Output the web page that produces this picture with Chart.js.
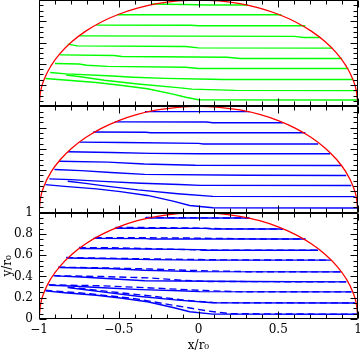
<!DOCTYPE html>
<html lang="en">
<head>
  <meta charset="UTF-8" />
  <title>Streamlines</title>
  <style>
    html, body { margin: 0; padding: 0; background: #fff; }
    #wrap { width: 360px; height: 354px; }
  </style>
</head>
<body>
  <div id="wrap"><canvas id="chart"></canvas></div>

  <script src="https://cdn.jsdelivr.net/npm/chart.js"></script>
  <script>
    // boundary r = r0 (red half circle)
    const circleX = [-1, -0.991, -0.966, -0.924, -0.866, -0.793, -0.707, -0.609, -0.5, -0.383, -0.259, -0.131, 0,
                     0.131, 0.259, 0.383, 0.5, 0.609, 0.707, 0.793, 0.866, 0.924, 0.966, 0.991, 1];
    const circleY = [0, 0.131, 0.259, 0.383, 0.5, 0.609, 0.707, 0.793, 0.866, 0.924, 0.966, 0.991, 1,
                     0.991, 0.966, 0.924, 0.866, 0.793, 0.707, 0.609, 0.5, 0.383, 0.259, 0.131, 0];

    // top panel: green streamlines, [x, y]
    const greenLines = [
      [[-0.30, 0.962], [0.00, 0.955], [0.05, 0.953], [0.31, 0.953]],
      [[-0.51, 0.861], [0.52, 0.861]],
      [[-0.64, 0.764], [-0.05, 0.762], [0.0, 0.758], [0.67, 0.758]],
      [[-0.745, 0.663], [0.60, 0.658], [0.66, 0.648], [0.765, 0.648]],
      [[-0.82, 0.585], [-0.76, 0.569], [-0.08, 0.563], [0.0, 0.550], [0.84, 0.547]],
      [[-0.87, 0.484], [-0.53, 0.478], [-0.48, 0.469], [0.18, 0.462], [0.26, 0.450], [0.90, 0.450]],
      [[-0.90, 0.403], [-0.75, 0.398], [-0.70, 0.387], [-0.57, 0.376], [-0.08, 0.367], [0.0, 0.356], [0.94, 0.356]],
      [[-0.93, 0.318], [-0.83, 0.305], [-0.57, 0.288], [-0.41, 0.274], [-0.21, 0.263], [0.085, 0.255], [0.15, 0.252], [0.97, 0.252]],
      [[-0.83, 0.295], [-0.74, 0.278], [-0.59, 0.245], [-0.38, 0.210], [-0.13, 0.176], [-0.04, 0.162], [0.23, 0.150], [0.985, 0.148]],
      [[-0.96, 0.262], [-0.84, 0.248], [-0.64, 0.224], [-0.49, 0.198], [-0.32, 0.165], [-0.16, 0.115],
       [-0.08, 0.085], [0.0, 0.062], [0.998, 0.059]]
    ];

    // middle panel (and solid lines of bottom panel): blue streamlines
    const blueLines = [
      [[-0.336, 0.95], [0.32, 0.95]],
      [[-0.525, 0.854], [0.05, 0.852], [0.09, 0.846], [0.53, 0.846]],
      [[-0.66, 0.758], [-0.33, 0.756], [-0.30, 0.752], [0.67, 0.752]],
      [[-0.745, 0.663], [-0.474, 0.660], [0.0, 0.652], [0.03, 0.646], [0.75, 0.646]],
      [[-0.818, 0.573], [-0.545, 0.566], [-0.3, 0.558], [0.0, 0.554], [0.826, 0.554]],
      [[-0.874, 0.484], [-0.568, 0.475], [-0.34, 0.458], [-0.02, 0.446], [0.895, 0.443]],
      [[-0.903, 0.406], [-0.736, 0.395], [-0.55, 0.378], [-0.338, 0.360], [0.30, 0.352], [0.926, 0.349]],
      [[-0.935, 0.318], [-0.80, 0.311], [-0.60, 0.294], [-0.36, 0.276], [-0.12, 0.265], [0.01, 0.257], [0.958, 0.255]],
      [[-0.82, 0.295], [-0.72, 0.278], [-0.58, 0.250], [-0.38, 0.214], [-0.13, 0.178], [0.09, 0.153], [0.98, 0.151]],
      [[-0.96, 0.264], [-0.84, 0.247], [-0.64, 0.224], [-0.49, 0.198], [-0.32, 0.162], [-0.16, 0.108],
       [-0.055, 0.068], [0.09, 0.046], [0.998, 0.044]]
    ];

    // bottom panel: dashed blue streamlines
    const dashedLines = [
      [[-0.33, 0.955], [0.0, 0.951], [0.32, 0.95]],
      [[-0.52, 0.862], [-0.1, 0.857], [0.2, 0.848], [0.53, 0.846]],
      [[-0.65, 0.766], [-0.1, 0.762], [0.36, 0.753], [0.67, 0.752]],
      [[-0.75, 0.672], [-0.5, 0.669], [-0.2, 0.657], [0.1, 0.648], [0.76, 0.646]],
      [[-0.83, 0.578], [-0.6, 0.572], [-0.3, 0.565], [0.14, 0.556], [0.83, 0.554]],
      [[-0.88, 0.487], [-0.6, 0.481], [-0.3, 0.470], [0.0, 0.455], [0.3, 0.445], [0.9, 0.443]],
      [[-0.91, 0.408], [-0.6, 0.399], [-0.3, 0.386], [-0.1, 0.364], [0.06, 0.353], [0.93, 0.349]],
      [[-0.94, 0.322], [-0.6, 0.312], [-0.3, 0.292], [0.04, 0.268], [0.23, 0.257], [0.96, 0.255]],
      [[-0.82, 0.30], [-0.6, 0.264], [-0.3, 0.217], [-0.07, 0.174], [0.1, 0.154], [0.98, 0.151]],
      [[-0.96, 0.27], [-0.7, 0.240], [-0.4, 0.192], [-0.2, 0.140], [0.06, 0.075], [0.2, 0.05], [1.0, 0.044]]
    ];

    const xTicks = [-1, -0.5, 0, 0.5, 1];
    const yTicks = [0, 0.2, 0.4, 0.6, 0.8, 1];

    const FONT = { family: "'DejaVu Serif', serif", size: 12 };
    const circlePts = circleX.map((x, i) => ({ x, y: circleY[i] }));
    const toPts = line => line.map(([x, y]) => ({ x, y }));

    function circleSet(axis) {
      return {
        data: circlePts, yAxisID: axis, borderColor: '#ff0000', borderWidth: 1.3,
        cubicInterpolationMode: 'monotone', order: 0
      };
    }
    function lineSets(lines, axis, color, dash) {
      return lines.map(l => ({
        data: toPts(l), yAxisID: axis, borderColor: color, borderWidth: 1.4,
        borderDash: dash || [], order: 1
      }));
    }

    const datasets = [
      circleSet('yTop'), ...lineSets(greenLines, 'yTop', '#00ff00'),
      circleSet('yMid'), ...lineSets(blueLines, 'yMid', '#0000ff'),
      circleSet('yBot'), ...lineSets(blueLines, 'yBot', '#0000ff'),
      ...lineSets(dashedLines, 'yBot', '#0000ff', [7, 4])
    ];

    const fmt = v => (v < 0 ? '\u2212' + Math.abs(v) : String(v));

    function panelAxis(withLabels) {
      return {
        type: 'linear', min: 0, max: 1, position: 'left',
        stack: 'panels', stackWeight: 1,
        grid: { display: false, drawTicks: false }, border: { display: false },
        afterBuildTicks: s => { s.ticks = yTicks.map(v => ({ value: v })); },
        ticks: { display: withLabels, autoSkip: false, padding: 6, color: '#000', font: FONT, callback: fmt },
        title: { display: withLabels, text: 'y/r\u2080', color: '#000', font: FONT, padding: 1 },
        afterFit: s => { s.width = 39; s.paddingTop = 0; s.paddingBottom = 0; }
      };
    }

    // panel frames with inward ticks on all four sides
    const frames = {
      id: 'frames',
      afterDatasetsDraw(chart) {
        const { ctx, chartArea: a, scales } = chart;
        const xs = scales.x;
        const L = Math.round(a.left) + 0.5, R = Math.round(a.right) - 0.5;
        ctx.save();
        ctx.strokeStyle = '#000';
        ctx.lineWidth = 1;
        ['yTop', 'yMid', 'yBot'].forEach(id => {
          const s = scales[id];
          const T = Math.round(s.top) + 0.5, B = Math.round(s.bottom) - 0.5;
          ctx.beginPath();
          ctx.rect(L, T, R - L, B - T);
          for (let i = 0; i <= 20; i++) {
            const py = Math.round(s.getPixelForValue(i * 0.05)) + 0.5;
            const len = i % 4 === 0 ? 7 : 4;
            ctx.moveTo(L, py); ctx.lineTo(L + len, py);
            ctx.moveTo(R, py); ctx.lineTo(R - len, py);
          }
          for (let i = 0; i <= 20; i++) {
            const px = Math.round(xs.getPixelForValue(-1 + i * 0.1)) + 0.5;
            const len = i % 5 === 0 ? 7 : 4;
            ctx.moveTo(px, T); ctx.lineTo(px, T + len);
            ctx.moveTo(px, B); ctx.lineTo(px, B - len);
          }
          ctx.stroke();
        });
        ctx.restore();
      }
    };

    new Chart(document.getElementById('chart'), {
      type: 'scatter',
      data: { datasets },
      options: {
        responsive: true,
        maintainAspectRatio: false,
        animation: false,
        showLine: true,
        elements: { point: { radius: 0 } },
        layout: { padding: { top: 0, right: 2, left: 0, bottom: 0 } },
        plugins: { legend: { display: false }, tooltip: { enabled: false } },
        scales: {
          x: {
            type: 'linear', min: -1, max: 1,
            grid: { display: false, drawTicks: false }, border: { display: false },
            afterBuildTicks: s => { s.ticks = xTicks.map(v => ({ value: v })); },
            ticks: { padding: 4, autoSkip: false, color: '#000', font: FONT, callback: fmt, maxRotation: 0 },
            title: { display: true, text: 'x/r\u2080', color: '#000', font: FONT, padding: 1 },
            afterFit: s => { s.height = 35; s.paddingLeft = 0; s.paddingRight = 0; }
          },
          // the last left axis of a stack is placed on top
          yBot: panelAxis(true),
          yMid: panelAxis(false),
          yTop: panelAxis(false)
        }
      },
      plugins: [frames]
    });
  </script>
</body>
</html>
